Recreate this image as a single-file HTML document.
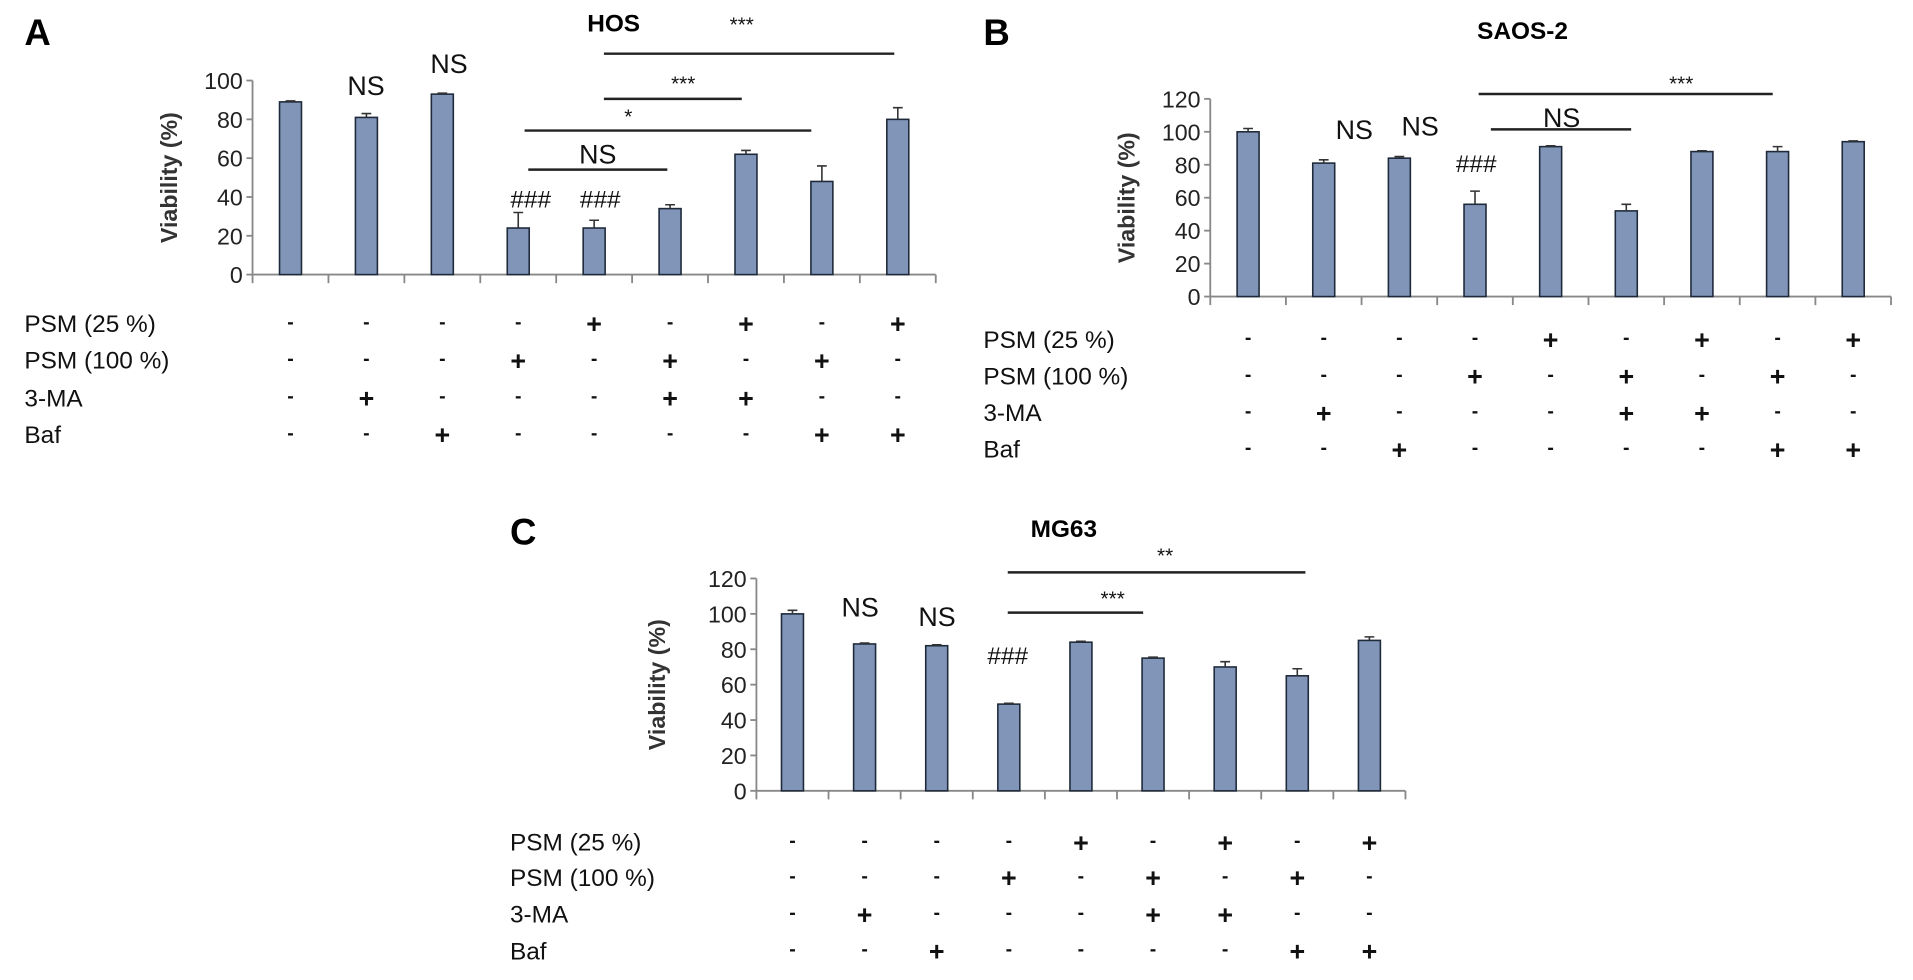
<!DOCTYPE html>
<html><head><meta charset="utf-8"><style>
html,body{margin:0;padding:0;background:#fff;}
svg{display:block;font-family:"Liberation Sans",Arial,sans-serif;}
</style></head><body>
<svg id="fig" width="1913" height="980" viewBox="0 0 1568 803" preserveAspectRatio="none" xmlns="http://www.w3.org/2000/svg"></svg>
<script>
// Panel A (HOS)
const catsA = ["1","2","3","4","5","6","7","8","9"];
const valsA = [89, 81, 93, 24, 24, 34, 62, 48, 80];
const errsA = [0.5, 2, 0.5, 8, 4, 2, 2, 8, 6];
const ticksA = [0, 20, 40, 60, 80, 100];
// Panel B (SAOS-2)
const valsB = [100, 81, 84, 56, 91, 52, 88, 88, 94];
const errsB = [2, 2, 1, 8, 0.5, 4, 0.5, 3, 0.5];
const ticksB = [0, 20, 40, 60, 80, 100, 120];
// Panel C (MG63)
const valsC = [100, 83, 82, 49, 84, 75, 70, 65, 85];
const errsC = [2, 0.5, 0.5, 0.5, 0.5, 0.5, 3, 4, 2];
const ticksC = [0, 20, 40, 60, 80, 100, 120];
// Treatment table
const rowLabels = ["PSM (25 %)", "PSM (100 %)", "3-MA", "Baf"];
const rowPSM25  = ["-","-","-","-","+","-","+","-","+"];
const rowPSM100 = ["-","-","-","+","-","+","-","+","-"];
const row3MA    = ["-","+","-","-","-","+","+","-","-"];
const rowBaf    = ["-","-","+","-","-","-","-","+","+"];

const NS = "http://www.w3.org/2000/svg";
const svg = document.getElementById('fig');
function mk(tag, attrs, parent, text){
  const e = document.createElementNS(NS, tag);
  for (const k in attrs) e.setAttribute(k, attrs[k]);
  if (text !== undefined) e.textContent = text;
  (parent || svg).appendChild(e);
  return e;
}

function panel(cfg){
  const g = mk('g', {});
  
  
  const ymax = cfg.ticks[cfg.ticks.length-1];
  const y = v => cfg.y0 - (v / ymax) * (cfg.y0 - cfg.yTop);
  const band = (cfg.xEnd - cfg.x0) / cfg.vals.length;
  const xc = i => cfg.x0 + band * (i + 0.5);

  const letter = mk('text', {x: cfg.lx, y: cfg.ly, 'font-size': 30, 'font-weight': 'bold'}, g, cfg.letter);
  
  
  const title = mk('text', {x: cfg.tx, y: cfg.ty, 'font-size': 20, 'font-weight': 'bold', 'text-anchor': 'middle'}, g, cfg.title);
  
  

  const ya = mk('line', {x1: cfg.x0, y1: cfg.yTop, x2: cfg.x0, y2: cfg.y0, stroke: '#888', 'stroke-width': 1.5}, g);
  
  
  cfg.ticks.forEach(t => {
    mk('line', {x1: cfg.x0 - 5, y1: y(t), x2: cfg.x0, y2: y(t), stroke: '#888', 'stroke-width': 1.5}, g);
    const tl = mk('text', {x: cfg.x0 - 8, y: y(t) + 7, 'font-size': 19, 'text-anchor': 'end', fill: '#222'}, g, String(t));
    
    
  });
  const ymid = (cfg.y0 + cfg.yTop) / 2;
  const yt = mk('text', {x: cfg.ylx, y: ymid, 'font-size': 19, 'font-weight': 'bold', 'text-anchor': 'middle', fill: '#333', transform: 'rotate(-90 ' + cfg.ylx + ' ' + ymid + ')'}, g, 'Viability (%)');
  
  

  const xa = mk('line', {x1: cfg.x0, y1: cfg.y0, x2: cfg.xEnd, y2: cfg.y0, stroke: '#888', 'stroke-width': 1.5}, g);
  
  
  for (let i = 0; i <= cfg.vals.length; i++) {
    const tx = cfg.x0 + band * i;
    mk('line', {x1: tx, y1: cfg.y0, x2: tx, y2: cfg.y0 + 7, stroke: '#888', 'stroke-width': 1.5}, g);
  }

  cfg.vals.forEach((v, i) => {
    const bw = 18;
    const b = mk('rect', {x: xc(i) - bw/2, y: y(v), width: bw, height: cfg.y0 - y(v), fill: '#8195b8', stroke: '#1e2a3a', 'stroke-width': 1.3}, g);
    
    
    const e = cfg.errs[i];
    const eb = mk('path', {d: 'M' + xc(i) + ' ' + y(v) + 'V' + y(v + e) + 'M' + (xc(i)-4) + ' ' + y(v+e) + 'H' + (xc(i)+4), stroke: '#333', 'stroke-width': 1.3, fill: 'none'}, g);
    
    
  });

  cfg.notes.forEach(n => {
    const t = mk('text', {x: n[0], y: n[1], 'font-size': n[3], 'text-anchor': 'middle', fill: '#111'}, g, n[2]);
    
    
  });
  cfg.lines.forEach(l => {
    const ln = mk('line', {x1: l[0], x2: l[1], y1: l[2], y2: l[2], stroke: '#222', 'stroke-width': 2}, g);
    
    
  });

  const rows = [rowPSM25, rowPSM100, row3MA, rowBaf];
  rows.forEach((r, ri) => {
    const ry = cfg.rowY[ri];
    const lb = mk('text', {x: cfg.rlx, y: ry + 7, 'font-size': 20, fill: '#111'}, g, rowLabels[ri]);
    
    
    r.forEach((s, ci) => {
      const m = mk('text', {x: xc(ci), y: ry + (s === '+' ? 8 : 4), 'font-size': s === '+' ? 22 : 16, 'font-weight': 'bold', 'text-anchor': 'middle', fill: '#111'}, g, s);
      
      
    });
  });
}

panel({id:'hos', letter:'A', lx:20, ly:37, title:'HOS', tx:503, ty:26,
  x0:207, xEnd:767, y0:225, yTop:66, ylx:145, vals:valsA, errs:errsA, ticks:ticksA,
  notes:[[300,78,'NS',22],[368,60,'NS',22],[608,26,'***',17],[560,74,'***',17],[515,101,'*',17],[490,134,'NS',22],[435,170,'###',20],[492,170,'###',20]],
  lines:[[495,733,44],[495,608,81],[430,665,107],[433,547,139]],
  rlx:20, rowY:[265,295,326,356]});

panel({id:'saos2', letter:'B', lx:806, ly:37, title:'SAOS-2', tx:1248, ty:32,
  x0:992, xEnd:1550, y0:243, yTop:81, ylx:930, vals:valsB, errs:errsB, ticks:ticksB,
  notes:[[1110,114,'NS',22],[1164,111,'NS',22],[1378,74,'***',17],[1280,104,'NS',22],[1210,141,'###',20]],
  lines:[[1212,1453,77],[1222,1337,106]],
  rlx:806, rowY:[278,308,338,368]});

panel({id:'mg63', letter:'C', lx:418, ly:446, title:'MG63', tx:872, ty:440,
  x0:620, xEnd:1152, y0:648, yTop:474, ylx:545, vals:valsC, errs:errsC, ticks:ticksC,
  notes:[[705,505,'NS',22],[768,513,'NS',22],[826,544,'###',20],[912,496,'***',17],[955,461,'**',17]],
  lines:[[826,1070,469],[826,937,502]],
  rlx:418, rowY:[690,719,749,779]});
</script>
</body></html>
